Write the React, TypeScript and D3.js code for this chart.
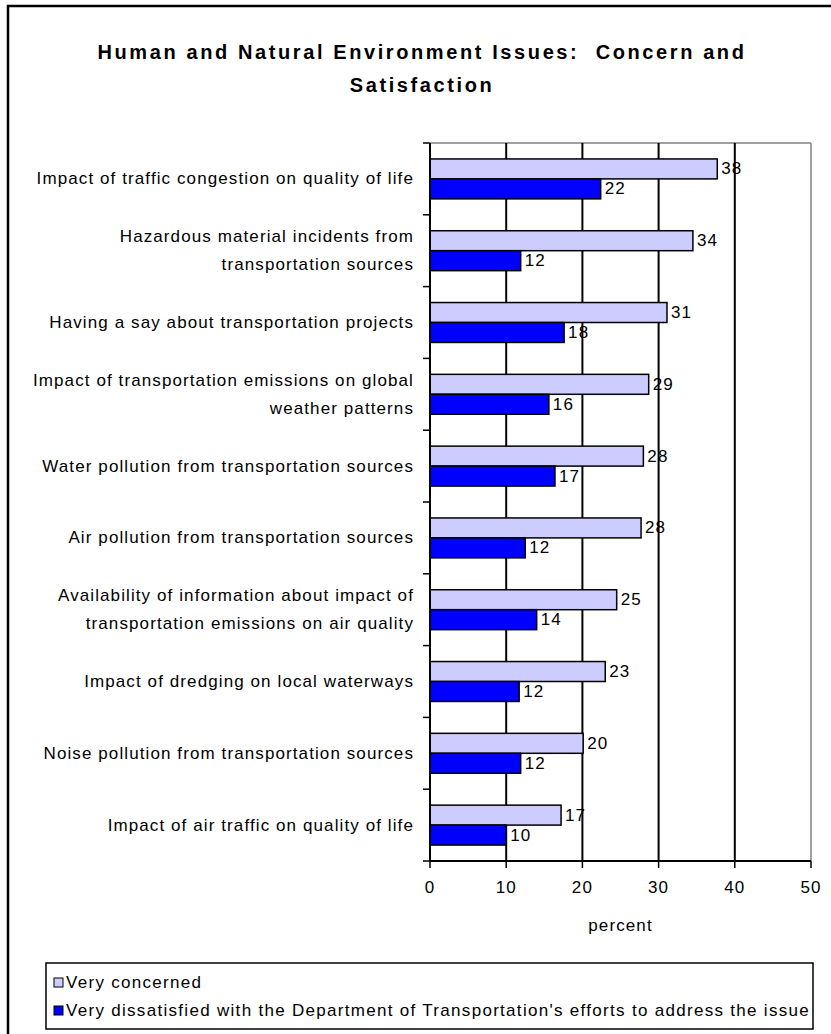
import React from "react";
import * as d3 from "d3";

const categories: string[] = [
  "Impact of traffic congestion on quality of life",
  "Hazardous material incidents from\ntransportation sources",
  "Having a say about transportation projects",
  "Impact of transportation emissions on global\nweather patterns",
  "Water pollution from transportation sources",
  "Air pollution from transportation sources",
  "Availability of information about impact of\ntransportation emissions on air quality",
  "Impact of dredging on local waterways",
  "Noise pollution from transportation sources",
  "Impact of air traffic on quality of life",
];

const veryConcerned: number[] = [37.7, 34.5, 31.1, 28.7, 28.0, 27.7, 24.5, 23.0, 20.1, 17.2];
const veryConcernedLabels: number[] = [38, 34, 31, 29, 28, 28, 25, 23, 20, 17];
const veryDissatisfied: number[] = [22.4, 11.9, 17.6, 15.6, 16.4, 12.5, 14.0, 11.7, 11.9, 10.0];
const veryDissatisfiedLabels: number[] = [22, 12, 18, 16, 17, 12, 14, 12, 12, 10];
const xTicks: number[] = [0, 10, 20, 30, 40, 50];
const seriesNames: string[] = [
  "Very concerned",
  "Very dissatisfied with the Department of Transportation's efforts to address the issue",
];
const titleLines: string[] = ["Human and Natural Environment Issues:  Concern and", "Satisfaction"];

const W = 831;
const H = 1034;
const FONT = "'Liberation Sans', Arial, sans-serif";
const LIGHT = "#CCCCFF";
const DARK = "#0000FF";

export default function App() {
  const x = d3.scaleLinear().domain([0, 50]).range([430, 811]);
  const y = d3
    .scaleBand<number>()
    .domain(d3.range(categories.length))
    .range([143, 861])
    .paddingInner(0.444)
    .paddingOuter(0.222);
  const step = y.step();
  const bw = y.bandwidth() / 2;
  const [top, bottom] = [143, 861];

  const txt = { fontFamily: FONT, fontSize: 17, letterSpacing: 1.1, fill: "#000" } as const;

  return (
    <svg width={W} height={H} style={{ position: "absolute", left: 0, top: 0, background: "#fff" }}>
      {/* outer frame */}
      <rect x={8} y={6} width={W + 20} height={H + 20} fill="#fff" stroke="#000" strokeWidth={2.5} />

      {/* title */}
      {titleLines.map((t, i) => (
        <text
          key={i}
          x={422}
          y={52 + i * 33}
          textAnchor="middle"
          dominantBaseline="central"
          style={{ fontFamily: FONT, fontSize: 20, fontWeight: "bold", letterSpacing: 2.6, whiteSpace: "pre" }}
        >
          {t}
        </text>
      ))}

      {/* plot frame: top and right gray */}
      <line x1={x(0)} x2={x(50)} y1={top} y2={top} stroke="#808080" strokeWidth={1.5} />
      <line x1={x(50)} x2={x(50)} y1={top} y2={bottom} stroke="#808080" strokeWidth={1.5} />

      {/* gridlines */}
      {xTicks.slice(1, -1).map((t) => (
        <line key={t} x1={x(t)} x2={x(t)} y1={top} y2={bottom} stroke="#000" strokeWidth={2} />
      ))}

      {/* bars */}
      {categories.map((_, i) => {
        const y0 = y(i) as number;
        return (
          <g key={i}>
            <rect x={x(0)} y={y0} width={x(veryConcerned[i]) - x(0)} height={bw} fill={LIGHT} stroke="#000" strokeWidth={1.5} />
            <rect x={x(0)} y={y0 + bw} width={x(veryDissatisfied[i]) - x(0)} height={bw} fill={DARK} stroke="#000" strokeWidth={1.5} />
            <text x={x(veryConcerned[i]) + 4} y={y0 + bw / 2} dominantBaseline="central" style={txt}>
              {veryConcernedLabels[i]}
            </text>
            <text x={x(veryDissatisfied[i]) + 4} y={y0 + bw * 1.5} dominantBaseline="central" style={txt}>
              {veryDissatisfiedLabels[i]}
            </text>
          </g>
        );
      })}

      {/* y axis */}
      <line x1={x(0)} x2={x(0)} y1={top} y2={bottom} stroke="#000" strokeWidth={2} />
      {d3.range(categories.length + 1).map((i) => (
        <line key={i} x1={x(0) - 7} x2={x(0)} y1={top + i * step} y2={top + i * step} stroke="#000" strokeWidth={1.5} />
      ))}
      {categories.map((c, i) => {
        const lines = c.split("\n");
        const cy = (y(i) as number) + y.bandwidth() / 2;
        return lines.map((l, j) => (
          <text
            key={i + "-" + j}
            x={414}
            y={cy + (j - (lines.length - 1) / 2) * 28}
            textAnchor="end"
            dominantBaseline="central"
            style={txt}
          >
            {l}
          </text>
        ));
      })}

      {/* x axis */}
      <line x1={x(0)} x2={x(50)} y1={bottom} y2={bottom} stroke="#000" strokeWidth={2} />
      {xTicks.map((t) => (
        <g key={t}>
          <line x1={x(t)} x2={x(t)} y1={bottom} y2={bottom + 7} stroke="#000" strokeWidth={1.5} />
          <text x={x(t)} y={887} textAnchor="middle" dominantBaseline="central" style={txt}>
            {t}
          </text>
        </g>
      ))}
      <text x={(x(0) + x(50)) / 2} y={925} textAnchor="middle" dominantBaseline="central" style={txt}>
        percent
      </text>

      {/* legend */}
      <rect x={46} y={963} width={767} height={66} fill="#fff" stroke="#000" strokeWidth={1.5} />
      {seriesNames.map((s, i) => (
        <g key={i}>
          <rect x={54} y={978 + i * 28} width={9} height={9} fill={i === 0 ? LIGHT : DARK} stroke="#000" strokeWidth={1} />
          <text x={66} y={982 + i * 28} dominantBaseline="central" style={{ ...txt, letterSpacing: 1.3, whiteSpace: "pre" }}>
            {s}
          </text>
        </g>
      ))}
    </svg>
  );
}
